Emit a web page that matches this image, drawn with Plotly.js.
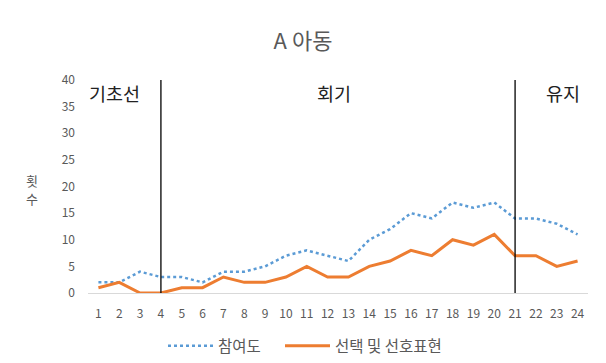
<!DOCTYPE html>
<html>
<head>
<meta charset="utf-8">
<script src="https://cdn.plot.ly/plotly-3.0.1.min.js"></script>
<style>
  html, body { margin: 0; padding: 0; background: #fff; }
  #chart { width: 606px; height: 363px; }
</style>
</head>
<body>
<div id="chart"></div>
<script>
// Sessions 1..24
const sessions = [1,2,3,4,5,6,7,8,9,10,11,12,13,14,15,16,17,18,19,20,21,22,23,24];
// 참여도 (participation)
const participation = [2,2,4,3,3,2,4,4,5,7,8,7,6,10,12,15,14,17,16,17,14,14,13,11];
// 선택 및 선호표현 (choice and preference expression)
const choiceExpr = [1,2,0,0,1,1,3,2,2,3,5,3,3,5,6,8,7,10,9,11,7,7,5,6];

const seriesNames = ['참여도', '선택 및 선호표현'];
// Phase boundaries (session where the divider is drawn) and phase labels
const phaseLines = [4, 21];
const phaseLabels = ['기초선', '회기', '유지'];
const phaseLabelX = [1.75, 12.3, 23.3];
const yTicks = [0,5,10,15,20,25,30,35,40];
// Y-axis title, written one character per line
const yTitleChars = ['횟', '수'];

const FONT = '"Noto Sans CJK KR", "Open Sans", sans-serif';

const traces = [
  {
    x: sessions, y: participation, name: seriesNames[0],
    type: 'scatter', mode: 'lines', legend: 'legend',
    line: { color: '#5B9BD5', width: 2.5, dash: 'dot' }
  },
  {
    x: sessions, y: choiceExpr, name: seriesNames[1],
    type: 'scatter', mode: 'lines', legend: 'legend2',
    line: { color: '#ED7D31', width: 3 }
  }
];

const shapes = phaseLines.map(v => ({
  type: 'line', xref: 'x', yref: 'y',
  x0: v, x1: v, y0: 0, y1: 40,
  line: { color: '#000', width: 1.3 }
}));

const annotations = phaseLabels.map((t, i) => ({
  text: t, x: phaseLabelX[i], y: 37.6, xref: 'x', yref: 'y',
  showarrow: false, font: { family: FONT, size: 18.5, color: '#222' }
}));
yTitleChars.forEach((c, i) => annotations.push({
  text: c, xref: 'paper', yref: 'paper', x: -0.112, xanchor: 'center',
  y: 0.53 - i * 0.084, yanchor: 'middle',
  showarrow: false, font: { family: FONT, size: 13, color: '#595959' }
}));

const legendStyle = {
  orientation: 'h', xanchor: 'left', y: -0.25, yanchor: 'middle',
  itemwidth: 45,
  font: { family: FONT, size: 15.5, color: '#595959' }
};

const layout = {
  width: 606, height: 363,
  margin: { l: 88, r: 18, t: 80, b: 70, autoexpand: false },
  paper_bgcolor: '#fff', plot_bgcolor: '#fff',
  font: { family: FONT, color: '#595959' },
  title: { text: 'A 아동', x: 0.5, xanchor: 'center', y: 0.885, yanchor: 'middle',
           font: { family: FONT, size: 22, color: '#595959' } },
  xaxis: {
    range: [0.5, 24.5], tickmode: 'array', tickvals: sessions,
    showgrid: false, zeroline: false, showline: true, linecolor: '#d9d9d9', linewidth: 1,
    ticks: '', ticklabelstandoff: 10, tickfont: { family: FONT, size: 12, color: '#595959' }
  },
  yaxis: {
    range: [0, 40], tickmode: 'array', tickvals: yTicks,
    showgrid: false, zeroline: false, showline: false,
    ticks: '', ticklabelstandoff: 12, tickfont: { family: FONT, size: 12, color: '#595959' }
  },
  legend: Object.assign({}, legendStyle, { x: 0.15 }),
  legend2: Object.assign({}, legendStyle, { x: 0.384 }),
  shapes: shapes,
  annotations: annotations,
  showlegend: true
};

Plotly.newPlot('chart', traces, layout, { displayModeBar: false, staticPlot: true });
</script>
</body>
</html>
